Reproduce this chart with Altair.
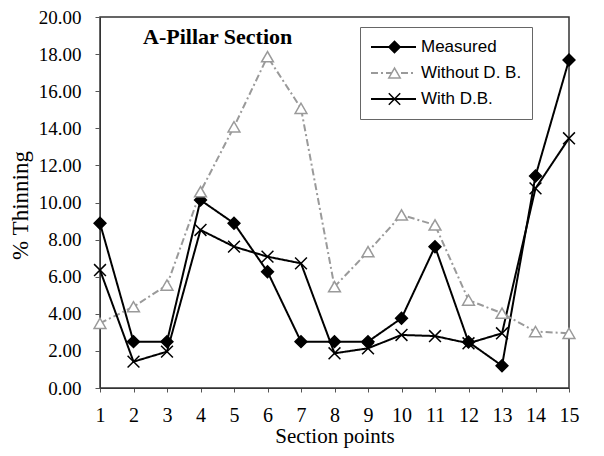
import altair as alt
import pandas as pd

points = list(range(1, 15 + 1))
measured = [8.88, 2.5, 2.5, 10.13, 8.88, 6.27, 2.5, 2.5, 2.5, 3.76, 7.62, 2.48, 1.2, 11.43, 17.68]
without_db = [3.49, 4.38, 5.55, 10.58, 14.08, 17.86, 15.08, 5.46, 7.35, 9.33, 8.79, 4.74, 4.03, 3.04, 2.95]
with_db = [6.36, 1.42, 1.96, 8.52, 7.62, 7.08, 6.72, 1.87, 2.14, 2.86, 2.80, 2.41, 2.95, 10.76, 13.46]
series_names = ["Measured", " Without D. B.", "With D.B."]

rows = []
for name, vals in zip(series_names, [measured, without_db, with_db]):
    for p, v in zip(points, vals):
        rows.append({"point": p, "value": v, "series": name})
df = pd.DataFrame(rows)

serif = "Liberation Serif"
sans = "Liberation Sans"

x_enc = alt.X("point:Q", scale=alt.Scale(domain=[1, 15], nice=False),
              axis=alt.Axis(values=points, format="d", title="Section points",
                            labelFont=serif, labelFontSize=20, labelColor="black",
                            titleFont=serif, titleFontSize=21, titleFontWeight="normal",
                            titleColor="black", labelPadding=13, titlePadding=0,
                            tickSize=4, tickColor="#555", domainColor="#333", grid=False,
                            labelFlush=False, labelOverlap=False))
y_enc = alt.Y("value:Q", scale=alt.Scale(domain=[0, 20], nice=False),
              axis=alt.Axis(values=list(range(0, 21, 2)), format=".2f", title="% Thinning",
                            labelFont=serif, labelFontSize=19, labelColor="black",
                            titleFont=serif, titleFontSize=23, titleFontWeight="normal",
                            titleColor="black", titleX=-80, titleY=188, titleBaseline="middle",
                            tickSize=5, tickColor="#555", domainColor="#333", grid=False,
                            labelPadding=14, labelOverlap=False, labelFlush=False))

color_scale = alt.Scale(domain=series_names, range=["black", "#9a9a9a", "black"])
line_leg = alt.Legend(title=None, orient="none", legendX=260, legendY=10,
                      labelFont=sans, labelFontSize=17, labelColor="black",
                      strokeColor="#666", padding=10, rowPadding=6, symbolSize=2025,
                      clipHeight=20, symbolStrokeWidth=1.8, labelOffset=4)
mark_leg = alt.Legend(title=None, orient="none", legendX=276, legendY=10,
                      labelFont=sans, labelFontSize=17, labelExpr="''",
                      padding=10, rowPadding=6, symbolSize=130, clipHeight=20,
                      symbolStrokeWidth=1.5, labelOffset=4)

lines = alt.Chart(df).mark_line(strokeWidth=2).encode(
    x=x_enc, y=y_enc,
    color=alt.Color("series:N", scale=color_scale, legend=line_leg),
    strokeDash=alt.StrokeDash("series:N", scale=alt.Scale(domain=series_names,
                              range=[[1, 0], [7, 3, 2, 3], [1, 0]]), legend=line_leg),
    strokeWidth=alt.StrokeWidth("series:N", scale=alt.Scale(domain=series_names,
                                range=[2.2, 1.2, 1.8]), legend=None),
    detail="series:N",
)

pts = alt.Chart(df).mark_point(size=140, strokeWidth=1.5, opacity=1).encode(
    x=x_enc, y=y_enc,
    shape=alt.Shape("series:N", scale=alt.Scale(domain=series_names,
                    range=["diamond", "triangle-up", "M-1,-1L1,1M1,-1L-1,1"]), legend=mark_leg),
    fill=alt.Fill("series:N", scale=alt.Scale(domain=series_names,
                  range=["black", "white", "transparent"]), legend=mark_leg),
    color=alt.Color("series:N", scale=color_scale, legend=mark_leg),
)

title = alt.Chart(pd.DataFrame({"t": ["A-Pillar Section"]})).mark_text(
    font=serif, fontSize=22, fontWeight="bold", align="left", baseline="middle", color="black"
).encode(x=alt.value(43), y=alt.value(20), text="t:N")

chart = alt.layer(lines, pts, title).resolve_legend(
    color="independent", shape="independent", fill="independent", strokeDash="independent"
).properties(
    width=469, height=371,
    autosize=alt.AutoSizeParams(type="none"),
    padding={"left": 92, "top": 9, "right": 27, "bottom": 60},
).configure_view(stroke="#333", strokeWidth=1.5)

chart.save("out.html", embed_options={"renderer": "svg", "actions": False})
